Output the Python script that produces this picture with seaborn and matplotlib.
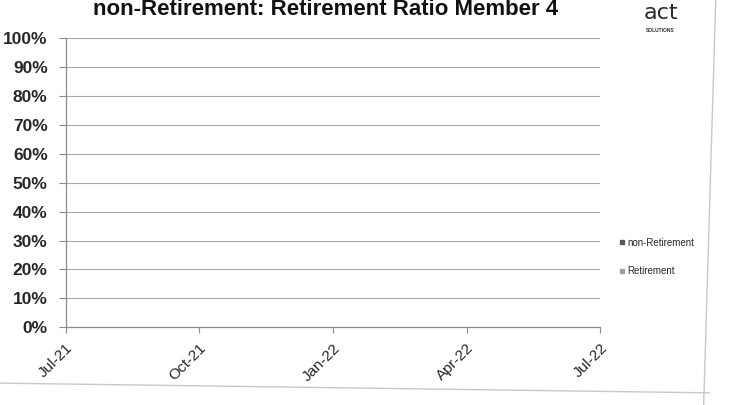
import matplotlib
matplotlib.use("Agg")
import matplotlib.pyplot as plt
from matplotlib.lines import Line2D
import numpy as np
import pandas as pd
import seaborn as sns

# Monthly shares of non-retirement vs retirement assets (no balances recorded yet)
months = ["Jul-21", "Aug-21", "Sep-21", "Oct-21", "Nov-21", "Dec-21", "Jan-22",
          "Feb-22", "Mar-22", "Apr-22", "May-22", "Jun-22", "Jul-22"]
non_retirement = [0, 0, 0, 0, 0, 0, 0, 0, 0, 0, 0, 0, 0]
retirement = [0, 0, 0, 0, 0, 0, 0, 0, 0, 0, 0, 0, 0]
series_names = ["non-Retirement", "Retirement"]
series_colors = ["#5a5a5a", "#a0a0a0"]
tick_months = ["Jul-21", "Oct-21", "Jan-22", "Apr-22", "Jul-22"]
y_ticks = [0, 10, 20, 30, 40, 50, 60, 70, 80, 90, 100]

df = pd.DataFrame({
    "month": list(range(len(months))) * 2,
    "series": [series_names[0]] * len(months) + [series_names[1]] * len(months),
    "share": non_retirement + retirement,
})

sns.set_theme(style="white")
plt.rcParams["font.family"] = ["Liberation Sans", "DejaVu Sans"]

fig = plt.figure(figsize=(7.55, 4.05), dpi=100)
ax = fig.add_axes([0.087, 0.192, 0.708, 0.713])

sns.histplot(data=df, x="month", hue="series", weights="share",
             multiple="stack", discrete=True, shrink=0.6,
             palette=series_colors, hue_order=series_names,
             legend=False, ax=ax, edgecolor="none")

ax.set_xlim(0, len(months) - 1)
ax.set_ylim(0, 100)
ax.set_yticks(y_ticks)
ax.set_yticklabels([f"{v}%" for v in y_ticks], fontsize=12.5, fontweight="bold",
                   color="#262626")
ax.set_xticks([months.index(m) for m in tick_months])
ax.set_xticklabels(tick_months, rotation=45, ha="right", rotation_mode="anchor",
                   fontsize=11, color="#262626")
ax.set_xlabel("")
ax.set_ylabel("")

ax.grid(axis="y", color="#a8a8a8", linewidth=0.8)
ax.grid(axis="x", visible=False)
for side in ("top", "right"):
    ax.spines[side].set_visible(False)
for side in ("left", "bottom"):
    ax.spines[side].set_color("#8c8c8c")
    ax.spines[side].set_linewidth(0.9)
ax.tick_params(axis="y", length=5, width=0.8, color="#8c8c8c", pad=8, left=True)
ax.tick_params(axis="x", length=4, width=0.8, color="#8c8c8c", pad=6, bottom=True)

# Legend on the right
handles = [Line2D([0], [0], marker="s", linestyle="none", markersize=3.5,
                  markerfacecolor=c, markeredgecolor=c) for c in series_colors]
fig.legend(handles, series_names, loc="upper left", bbox_to_anchor=(0.815, 0.425),
           frameon=False, fontsize=7, handlelength=0.4, handletextpad=0.3,
           labelspacing=1.9, borderpad=0)

# Title
fig.text(0.739, 0.962, "non-Retirement: Retirement Ratio Member 4", ha="right",
         va="baseline", fontsize=16, fontweight="bold", color="#111111")

# Company mark at the top right
fig.text(0.875, 0.953, "act", ha="center", va="baseline", fontsize=16,
         color="#2a2a2a", family=["DejaVu Sans"])
fig.text(0.875, 0.924, "SOLUTIONS", ha="center", va="center", fontsize=3.5,
         color="#2a2a2a", fontweight="bold")

# Chart frame edges
fig.add_artist(Line2D([0.948, 0.932], [1.0, 0.0], color="#c8c8c8", linewidth=1.0))
fig.add_artist(Line2D([0.0, 0.94], [0.054, 0.03], color="#c8c8c8", linewidth=1.0))

fig.savefig("out.png", dpi=100, facecolor="white")
